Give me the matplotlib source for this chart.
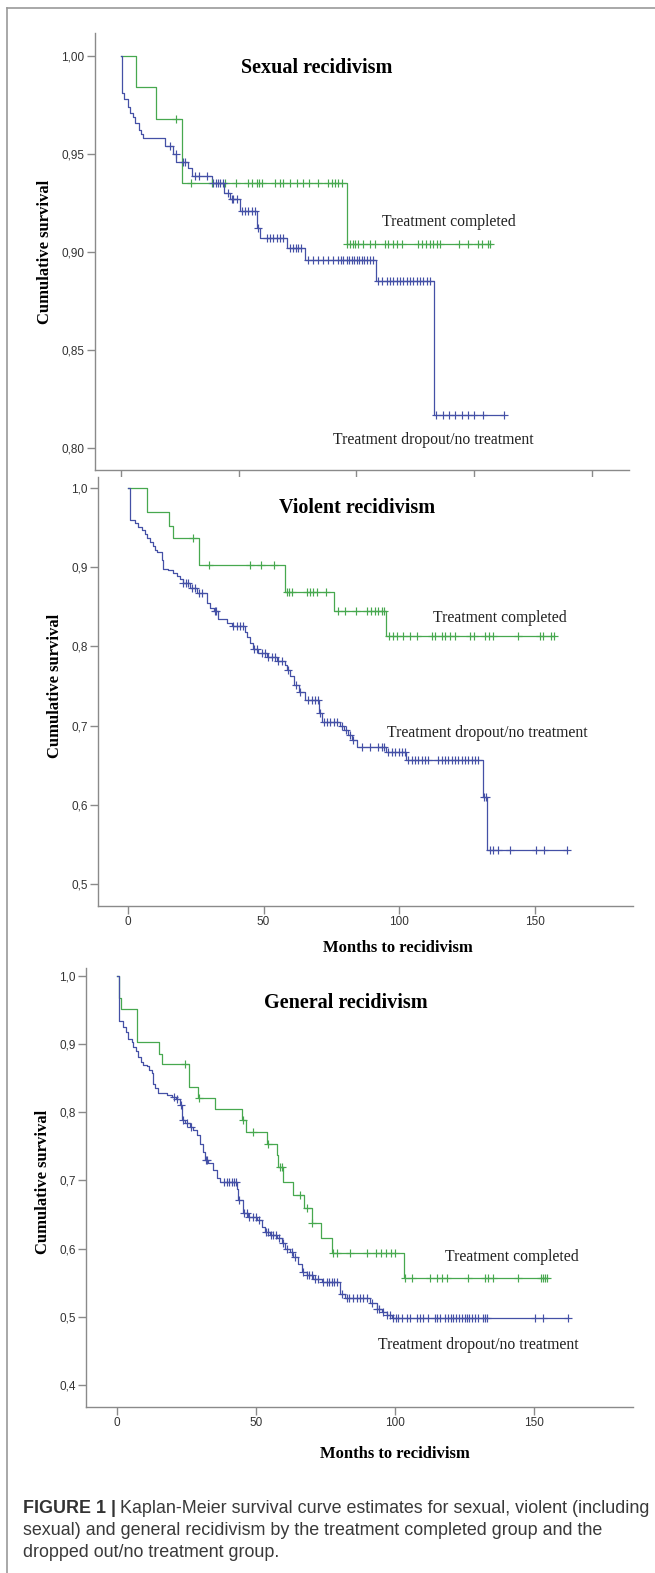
import numpy as np
import matplotlib
matplotlib.use("Agg")
import matplotlib.pyplot as plt

# Kaplan-Meier curves (months, cumulative survival)
# sexual recidivism
sex_done_t = [6.6, 14.9, 25.8, 95.9]
sex_done_s = [0.984, 0.968, 0.935, 0.904]
sex_done_c = [23.6, 29.7, 38.5, 44.2, 48.9, 54.1, 55.5, 57.6, 58.8, 59.8, 65.4, 67.5, 69.0, 71.8,
              74.6, 77.2, 80.0, 83.8, 88.1, 89.5, 90.9, 92.3, 93.7, 96.2, 97.3, 98.4, 99.4, 100.8,
              103.0, 105.8, 107.9, 112.2, 113.6, 115.7, 117.4, 119.2, 126.3, 127.7, 129.6, 131.3,
              132.7, 134.1, 135.5, 143.7, 147.5, 151.8, 153.2, 156.0, 156.8]
sex_drop_t = [0.5, 1.5, 3.0, 4.0, 5.0, 6.0, 7.5, 8.5, 9.5, 18.7, 22.2, 23.6, 28.6, 30.4, 38.5,
              43.8, 46.3, 50.6, 57.6, 59.1, 70.7, 78.2, 108.3, 133.1]
sex_drop_s = [0.981, 0.978, 0.974, 0.971, 0.969, 0.966, 0.962, 0.960, 0.958, 0.954, 0.950, 0.946,
              0.943, 0.939, 0.935, 0.930, 0.927, 0.921, 0.912, 0.907, 0.902, 0.896, 0.885, 0.817]
sex_drop_c = [20.8, 23.4, 26.2, 27.2, 31.4, 33.3, 36.7, 39.2, 40.4, 41.3, 42.3, 43.2, 45.6, 47.0,
              47.7, 49.4, 51.3, 52.7, 54.1, 55.5, 56.9, 58.3, 61.9, 63.3, 64.7, 66.1, 67.5, 69.0,
              71.8, 72.9, 74.3, 75.3, 76.7, 79.6, 81.7, 83.8, 86.0, 88.1, 90.2, 92.3, 93.3, 94.4,
              95.9, 97.0, 98.0, 99.0, 100.1, 101.2, 102.2, 103.2, 104.4, 105.8, 107.2, 109.3, 110.7,
              112.9, 114.3, 115.7, 117.1, 118.5, 119.9, 121.4, 122.8, 124.2, 125.6, 127.0, 128.4,
              129.8, 131.3, 134.0, 136.7, 139.3, 142.0, 144.7, 147.4, 150.0, 153.6, 162.5]

# violent recidivism
vio_done_t = [7.1, 15.2, 16.7, 26.3, 58.0, 76.0, 95.2]
vio_done_s = [0.969, 0.952, 0.936, 0.903, 0.868, 0.845, 0.813]
vio_done_c = [24.1, 30.0, 45.0, 49.1, 54.0, 58.6, 59.4, 60.4, 65.9, 67.2, 68.4, 69.9, 73.1, 77.6,
              80.1, 84.1, 88.1, 89.5, 91.1, 92.4, 93.6, 94.5, 96.4, 97.7, 99.4, 101.6, 104.1, 106.5,
              112.1, 113.3, 115.7, 117.0, 118.8, 120.7, 126.2, 127.7, 131.7, 133.0, 134.8, 144.0,
              152.0, 153.0, 156.0, 157.0]
vio_drop_t = [0.8, 2.6, 3.8, 5.0, 6.3, 7.1, 8.1, 9.1, 10.0, 10.6, 12.4, 13.0, 14.9, 16.7, 18.0,
              19.2, 20.2, 22.9, 25.6, 29.0, 30.3, 31.7, 33.3, 36.4, 38.3, 43.2, 44.0, 45.0, 46.0,
              48.1, 51.2, 54.9, 58.0, 58.6, 59.8, 61.4, 62.9, 65.3, 70.6, 71.5, 78.2, 79.5, 81.3,
              82.5, 84.4, 95.2, 102.6, 130.9, 132.6]
vio_drop_s = [0.959, 0.955, 0.951, 0.947, 0.942, 0.936, 0.932, 0.926, 0.921, 0.919, 0.909, 0.898,
              0.896, 0.893, 0.889, 0.885, 0.880, 0.873, 0.867, 0.854, 0.848, 0.844, 0.835, 0.830,
              0.825, 0.818, 0.812, 0.804, 0.797, 0.792, 0.787, 0.781, 0.776, 0.770, 0.762, 0.751,
              0.743, 0.732, 0.716, 0.705, 0.700, 0.694, 0.688, 0.682, 0.673, 0.667, 0.657, 0.610,
              0.543]
vio_drop_c = [20.4, 21.5, 22.0, 23.5, 24.8, 26.3, 27.2, 32.0, 32.6, 38.9, 40.1, 41.4, 42.6, 46.3,
              47.6, 49.3, 50.6, 51.8, 53.1, 54.3, 55.5, 56.8, 59.2, 62.0, 63.5, 66.5, 67.7, 69.0,
              70.2, 71.0, 72.2, 73.5, 74.7, 76.0, 77.2, 78.8, 80.4, 82.0, 83.1, 86.2, 89.3, 92.4,
              93.6, 94.6, 96.1, 97.4, 98.6, 99.8, 101.1, 102.3, 103.4, 104.7, 105.9, 107.1, 108.4,
              109.6, 110.8, 114.5, 115.7, 117.0, 118.2, 119.4, 120.7, 121.9, 123.1, 124.4, 125.6,
              126.8, 128.0, 129.3, 131.2, 131.9, 133.4, 134.7, 136.5, 141.1, 150.4, 153.4, 162.1]

# general recidivism
gen_done_t = [0.8, 1.3, 7.1, 15.2, 16.1, 26.0, 29.3, 35.2, 44.9, 46.3, 53.8, 57.4, 57.8, 59.8,
              63.4, 67.3, 70.0, 73.3, 77.2, 103.4]
gen_done_s = [0.967, 0.951, 0.903, 0.886, 0.870, 0.837, 0.821, 0.804, 0.788, 0.771, 0.754, 0.737,
              0.719, 0.698, 0.679, 0.659, 0.637, 0.615, 0.593, 0.557]
gen_done_c = [24.5, 29.6, 45.3, 49.0, 54.2, 58.5, 59.2, 65.8, 68.5, 70.3, 77.8, 79.2, 83.8, 90.0,
              93.2, 94.8, 96.8, 98.4, 100.0, 103.6, 106.0, 112.6, 115.0, 116.8, 118.6, 126.4,
              132.4, 133.6, 135.4, 144.4, 152.4, 153.3, 154.0, 154.5]
gen_drop_t = [0.8, 2.3, 3.2, 4.1, 5.3, 5.9, 6.8, 7.7, 8.5, 9.5, 10.7, 11.6, 12.5, 13.1, 13.7, 14.9,
              17.9, 19.7, 21.2, 22.7, 23.3, 24.5, 26.3, 27.5, 28.6, 29.8, 31.0, 31.6, 32.8, 34.6,
              35.8, 37.0, 43.0, 43.6, 45.4, 47.2, 50.2, 52.0, 53.2, 55.0, 57.4, 59.2, 60.4, 62.2,
              63.4, 65.2, 66.4, 68.2, 70.6, 73.6, 80.2, 82.0, 91.0, 93.4, 95.2, 97.0, 98.8]
gen_drop_s = [0.933, 0.925, 0.918, 0.908, 0.903, 0.896, 0.889, 0.881, 0.874, 0.869, 0.867, 0.862,
              0.857, 0.842, 0.835, 0.828, 0.825, 0.823, 0.820, 0.811, 0.789, 0.784, 0.779, 0.774,
              0.767, 0.754, 0.742, 0.730, 0.725, 0.715, 0.703, 0.698, 0.688, 0.671, 0.652, 0.647,
              0.642, 0.632, 0.625, 0.620, 0.615, 0.608, 0.600, 0.595, 0.588, 0.578, 0.566, 0.561,
              0.556, 0.551, 0.534, 0.527, 0.520, 0.512, 0.507, 0.503, 0.498]
gen_drop_c = [20.5, 21.7, 22.9, 23.9, 25.3, 26.5, 32.0, 32.5, 38.5, 39.4, 40.4, 41.2, 42.1, 42.8,
              44.0, 45.7, 46.6, 47.6, 48.8, 50.0, 51.2, 53.6, 54.4, 55.3, 56.2, 57.2, 58.4, 59.6,
              61.0, 62.8, 64.0, 67.0, 68.2, 69.2, 70.1, 71.2, 72.4, 74.0, 75.4, 76.4, 77.2, 78.0,
              79.0, 80.8, 82.6, 83.6, 84.8, 86.2, 87.4, 88.6, 89.8, 91.6, 93.4, 94.4, 95.8, 97.2,
              98.2, 99.4, 100.4, 101.2, 102.4, 104.2, 105.4, 107.8, 109.0, 110.0, 112.0, 114.4,
              115.2, 116.2, 118.0, 119.2, 120.0, 121.0, 122.0, 123.1, 124.0, 125.2, 125.8, 126.7,
              127.6, 128.8, 130.0, 131.5, 132.4, 133.0, 150.4, 153.1, 162.3]

titles = ["Sexual recidivism", "Violent recidivism", "General recidivism"]
lab_done = "Treatment completed"
lab_drop = "Treatment dropout/no treatment"

GREEN = "#47a84f"
BLUE = "#4450a6"
AXC = "#8a8a8a"

W, H = 655, 1573
fig = plt.figure(figsize=(W / 100, H / 100), dpi=100)


def px_axes(l, t, r, b):
    return fig.add_axes([l / W, 1 - b / H, (r - l) / W, (b - t) / H])


def km(ax, t, s, c, col):
    t = np.asarray(t); s = np.asarray(s); c = np.asarray(c)
    end = max(c.max(), t.max())
    xs = np.r_[0, t, end]
    ys = np.r_[1.0, s, s[-1]]
    ax.step(xs, ys, where="post", color=col, lw=0.9, zorder=3)
    lev = np.r_[1.0, s][np.searchsorted(t, c, side="right")]
    ax.plot(c, lev, ls="none", marker="+", ms=5.3, mew=0.85, color=col, zorder=4)


def style(ax, xlim, ylim, yticks, fmt, xlabels=True, xticks=(0, 50, 100, 150)):
    ax.set_xlim(*xlim)
    ax.set_ylim(*ylim)
    for sp in ["top", "right"]:
        ax.spines[sp].set_visible(False)
    for sp in ["left", "bottom"]:
        ax.spines[sp].set_color(AXC)
        ax.spines[sp].set_linewidth(1.0)
    ax.set_yticks(yticks)
    ax.set_yticklabels([fmt.format(v).replace(".", ",") for v in yticks])
    ax.set_xticks(xticks)
    if xlabels:
        ax.set_xticklabels([str(v) for v in xticks])
    else:
        ax.set_xticklabels([])
    ax.tick_params(direction="out", length=6, width=1.0, color=AXC, labelsize=8.5,
                   labelcolor="#333333", pad=1.5)
    for lb in ax.get_xticklabels() + ax.get_yticklabels():
        lb.set_family("Liberation Sans")


serif = "Liberation Serif"

panels = [
    dict(box=(95, 33, 629, 470), xlim=(-11.0, 215.8), ylim=(0.7888, 1.0117),
         yt=[0.80, 0.85, 0.90, 0.95, 1.00], fmt="{:.2f}", xl=False, xt=(0, 50, 100, 150, 200),
         data=(sex_done_t, sex_done_s, sex_done_c, sex_drop_t, sex_drop_s, sex_drop_c),
         title=(317, 68), ylab=(45, 252), xlab=None,
         done_xy=(110.9, 0.9153), drop_xy=(90.1, 0.804)),
    dict(box=(98, 477, 633, 906), xlim=(-11.07, 186.3), ylim=(0.4725, 1.0135),
         yt=[0.5, 0.6, 0.7, 0.8, 0.9, 1.0], fmt="{:.1f}", xl=True, xt=(0, 50, 100, 150),
         data=(vio_done_t, vio_done_s, vio_done_c, vio_drop_t, vio_drop_s, vio_drop_c),
         title=(357, 508), ylab=(55, 686), xlab=(398, 948),
         done_xy=(112.5, 0.8357), drop_xy=(95.6, 0.6907)),
    dict(box=(86, 968, 633, 1407), xlim=(-11.15, 185.6), ylim=(0.3678, 1.0114),
         yt=[0.4, 0.5, 0.6, 0.7, 0.8, 0.9, 1.0], fmt="{:.1f}", xl=True, xt=(0, 50, 100, 150),
         data=(gen_done_t, gen_done_s, gen_done_c, gen_drop_t, gen_drop_s, gen_drop_c),
         title=(346, 1003), ylab=(43, 1182), xlab=(395, 1454),
         done_xy=(118.0, 0.5877), drop_xy=(93.9, 0.4587)),
]

for p, title in zip(panels, titles):
    ax = px_axes(*p["box"])
    dt, ds, dc, bt, bs, bc = p["data"]
    km(ax, dt, ds, dc, GREEN)
    km(ax, bt, bs, bc, BLUE)
    style(ax, p["xlim"], p["ylim"], p["yt"], p["fmt"], p["xl"], p["xt"])
    ax.text(*p["done_xy"], lab_done, family=serif, fontsize=11.3, va="center", ha="left",
            color="#222222")
    ax.text(*p["drop_xy"], lab_drop, family=serif, fontsize=11.3, va="center", ha="left",
            color="#222222")
    fig.text(p["title"][0] / W, 1 - p["title"][1] / H, title, family=serif, weight="bold",
             fontsize=14.5, ha="center", va="center")
    fig.text(p["ylab"][0] / W, 1 - p["ylab"][1] / H, "Cumulative survival", family=serif,
             weight="bold", fontsize=12, rotation=90, ha="center", va="center")
    if p["xlab"]:
        fig.text(p["xlab"][0] / W, 1 - p["xlab"][1] / H, "Months to recidivism", family=serif,
                 weight="bold", fontsize=12, ha="center", va="center")

# frame lines (top and left)
fig.add_artist(plt.Line2D([7 / W, 1], [1 - 8 / H, 1 - 8 / H], color="#9a9a9a", lw=1.2))
fig.add_artist(plt.Line2D([7 / W, 7 / W], [0, 1 - 8 / H], color="#9a9a9a", lw=1.2))

# caption
cap_lines = ["Kaplan-Meier survival curve estimates for sexual, violent (including",
             "sexual) and general recidivism by the treatment completed group and the",
             "dropped out/no treatment group."]
cap_y = [1513, 1535, 1557]
cap_fs = 12.9
r = fig.canvas.get_renderer()
head = fig.text(23 / W, 1 - cap_y[0] / H, "FIGURE 1 |", family="Liberation Sans",
                weight="bold", fontsize=cap_fs, color="#333333", va="baseline")
bb = head.get_window_extent(renderer=r)
fig.text((bb.x1 + 4) / W, 1 - cap_y[0] / H, cap_lines[0], family="Liberation Sans",
         fontsize=cap_fs, color="#3a3a3a", va="baseline")
for line, y in zip(cap_lines[1:], cap_y[1:]):
    fig.text(23 / W, 1 - y / H, line, family="Liberation Sans", fontsize=cap_fs,
             color="#3a3a3a", va="baseline")

fig.savefig("out.png", dpi=100)
